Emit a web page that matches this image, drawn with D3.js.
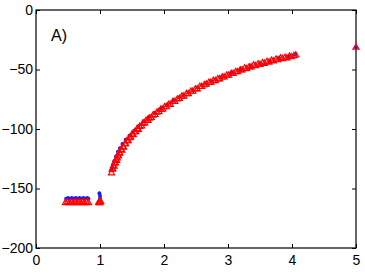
<!DOCTYPE html>
<html>
<head>
<meta charset="utf-8">
<script src="https://cdn.jsdelivr.net/npm/d3@7"></script>
<style>
  body { margin: 0; background: #fff; }
  text { font-family: "Liberation Sans", Arial, sans-serif; }
</style>
</head>
<body>
<svg id="chart" width="365" height="273"></svg>
<script>
// axis ticks
var xTicks = [0, 1, 2, 3, 4, 5];
var yTicks = [0, -50, -100, -150, -200];

// red open triangles
var redX = [0.46, 0.49, 0.52, 0.55, 0.58, 0.61, 0.64, 0.67, 0.70, 0.73, 0.76, 0.79, 0.82,
  0.98, 0.99, 1.0, 1.01,
  1.18, 1.19, 1.20, 1.21, 1.22, 1.23, 1.24, 1.25, 1.26, 1.27, 1.28, 1.29, 1.30, 1.31, 1.33, 1.34,
  1.36, 1.37, 1.39, 1.40, 1.42, 1.44, 1.46, 1.48, 1.50, 1.52, 1.54, 1.56, 1.58, 1.60, 1.62, 1.65,
  1.67, 1.70, 1.72, 1.75, 1.77, 1.80, 1.83, 1.86, 1.89, 1.92, 1.95, 1.98, 2.01, 2.04, 2.07, 2.10,
  2.14, 2.17, 2.21, 2.24, 2.28, 2.31, 2.35, 2.38, 2.42, 2.45, 2.49, 2.52, 2.56, 2.59, 2.63, 2.66,
  2.70, 2.73, 2.77, 2.80, 2.84, 2.87, 2.91, 2.94, 2.98, 3.01, 3.05, 3.08, 3.12, 3.15, 3.19, 3.22,
  3.26, 3.29, 3.33, 3.36, 3.40, 3.43, 3.47, 3.50, 3.54, 3.57, 3.61, 3.64, 3.68, 3.71, 3.75, 3.78,
  3.82, 3.85, 3.89, 3.92, 3.96, 3.99, 4.03, 4.06,
  5.0];
var redY = [-162, -161.5, -162, -161.5, -162, -161.5, -162, -161.5, -162, -161.5, -162, -161.5, -162,
  -162, -161, -162, -161,
  -137, -134, -133.5, -131, -131.5, -129, -128.5, -126, -126.5, -124.5, -122.5, -122.5, -120, -120.5, -117.5, -118,
  -115, -115.5, -112.5, -112.5, -110, -110, -107.5, -107, -104.5, -105, -102.5, -102.5, -100, -100.5, -98, -97.5,
  -95.5, -95, -93, -93, -91, -90.5, -88.5, -88, -86, -85.5, -83.5, -83.5, -81.5, -81.5, -79.5, -79.5,
  -77, -77, -75, -74.5, -72.5, -72.5, -70.5, -70.5, -68.5, -68.5, -66.5, -66.5, -64.5, -64.5, -63, -62.5,
  -61, -61, -59.5, -59.5, -58, -58, -56.5, -56.5, -55, -55, -53.5, -53.5, -52, -52, -50.5, -50.5,
  -49, -49.5, -48, -48, -46.5, -47, -45.5, -46, -44.5, -45, -43.5, -44, -42.5, -43, -41.5, -42,
  -40.5, -41, -40, -40.5, -39, -39.5, -38.5, -38,
  -31.5];

// blue dots
var blueX = [0.47, 0.50, 0.53, 0.56, 0.59, 0.62, 0.65, 0.68, 0.71, 0.74, 0.77, 0.80, 0.82,
  0.99, 1.0, 1.0, 1.0,
  1.18, 1.2, 1.22, 1.25, 1.28, 1.31, 1.35, 1.4, 1.46, 1.53, 1.6, 1.68, 1.76, 1.85, 1.95, 2.05,
  2.15, 2.3, 2.45, 2.6, 2.75, 2.9, 3.05, 3.2, 3.35, 3.5, 3.65, 3.8, 3.95, 4.05, 5.0];
var blueY = [-158.5, -158, -158.5, -158, -158.5, -158, -158.5, -158, -158.5, -158, -158.5, -158, -158.5,
  -154, -156, -158, -160,
  -134, -130, -127, -123, -119, -116, -112.5, -109, -105.5, -101.5, -97.5, -93.5, -90, -86.5, -83, -79.5,
  -76, -71.5, -67.5, -63.5, -60, -56.5, -53, -50, -47.5, -45, -42.5, -40.5, -39, -37.5, -31.5];

var svg = d3.select("#chart"),
    margin = {top: 10, right: 9, bottom: 25, left: 36},
    width = 365 - margin.left - margin.right,
    height = 273 - margin.top - margin.bottom;

var x = d3.scaleLinear().domain([0, 5]).range([margin.left, margin.left + width]);
var y = d3.scaleLinear().domain([-200, 0]).range([margin.top + height, margin.top]);

var fmt = d => d < 0 ? "\u2212" + Math.abs(d) : d;

// box
svg.append("rect")
    .attr("x", x(0)).attr("y", y(0))
    .attr("width", width).attr("height", height)
    .attr("fill", "none").attr("stroke", "#000").attr("stroke-width", 1.2);

// inward ticks on all sides
svg.append("g").attr("transform", "translate(0," + y(-200) + ")")
    .call(d3.axisBottom(x).tickValues(xTicks).tickSize(-4).tickPadding(7).tickFormat(fmt))
    .call(g => g.select(".domain").remove());
svg.append("g").attr("transform", "translate(0," + y(0) + ")")
    .call(d3.axisTop(x).tickValues(xTicks).tickSize(-4).tickFormat(""))
    .call(g => g.select(".domain").remove());
svg.append("g").attr("transform", "translate(" + x(0) + ",0)")
    .call(d3.axisLeft(y).tickValues(yTicks).tickSize(-4).tickPadding(3).tickFormat(fmt))
    .call(g => g.select(".domain").remove());
svg.append("g").attr("transform", "translate(" + x(5) + ",0)")
    .call(d3.axisRight(y).tickValues(yTicks).tickSize(-4).tickFormat(""))
    .call(g => g.select(".domain").remove());

svg.selectAll(".tick text").attr("font-size", 14).attr("fill", "#000")
    .style("font-family", "'Liberation Sans', Arial, sans-serif");
svg.selectAll(".tick line").attr("stroke", "#000");

// blue dots
svg.append("g").selectAll("circle")
    .data(blueX)
  .enter().append("circle")
    .attr("cx", (d, i) => x(d))
    .attr("cy", (d, i) => y(blueY[i]))
    .attr("r", 1.9)
    .attr("fill", "#1a1aff");

// red open triangles
var tri = d3.symbol().type(d3.symbolTriangle).size(16);
svg.append("g").selectAll("path")
    .data(redX)
  .enter().append("path")
    .attr("d", tri)
    .attr("transform", (d, i) => "translate(" + x(d) + "," + y(redY[i]) + ")")
    .attr("fill", "none")
    .attr("stroke", "#ff0000")
    .attr("stroke-width", 1.2);

// panel label
svg.append("text")
    .attr("x", 51).attr("y", 41)
    .attr("font-size", 16)
    .text("A)");
</script>
</body>
</html>
